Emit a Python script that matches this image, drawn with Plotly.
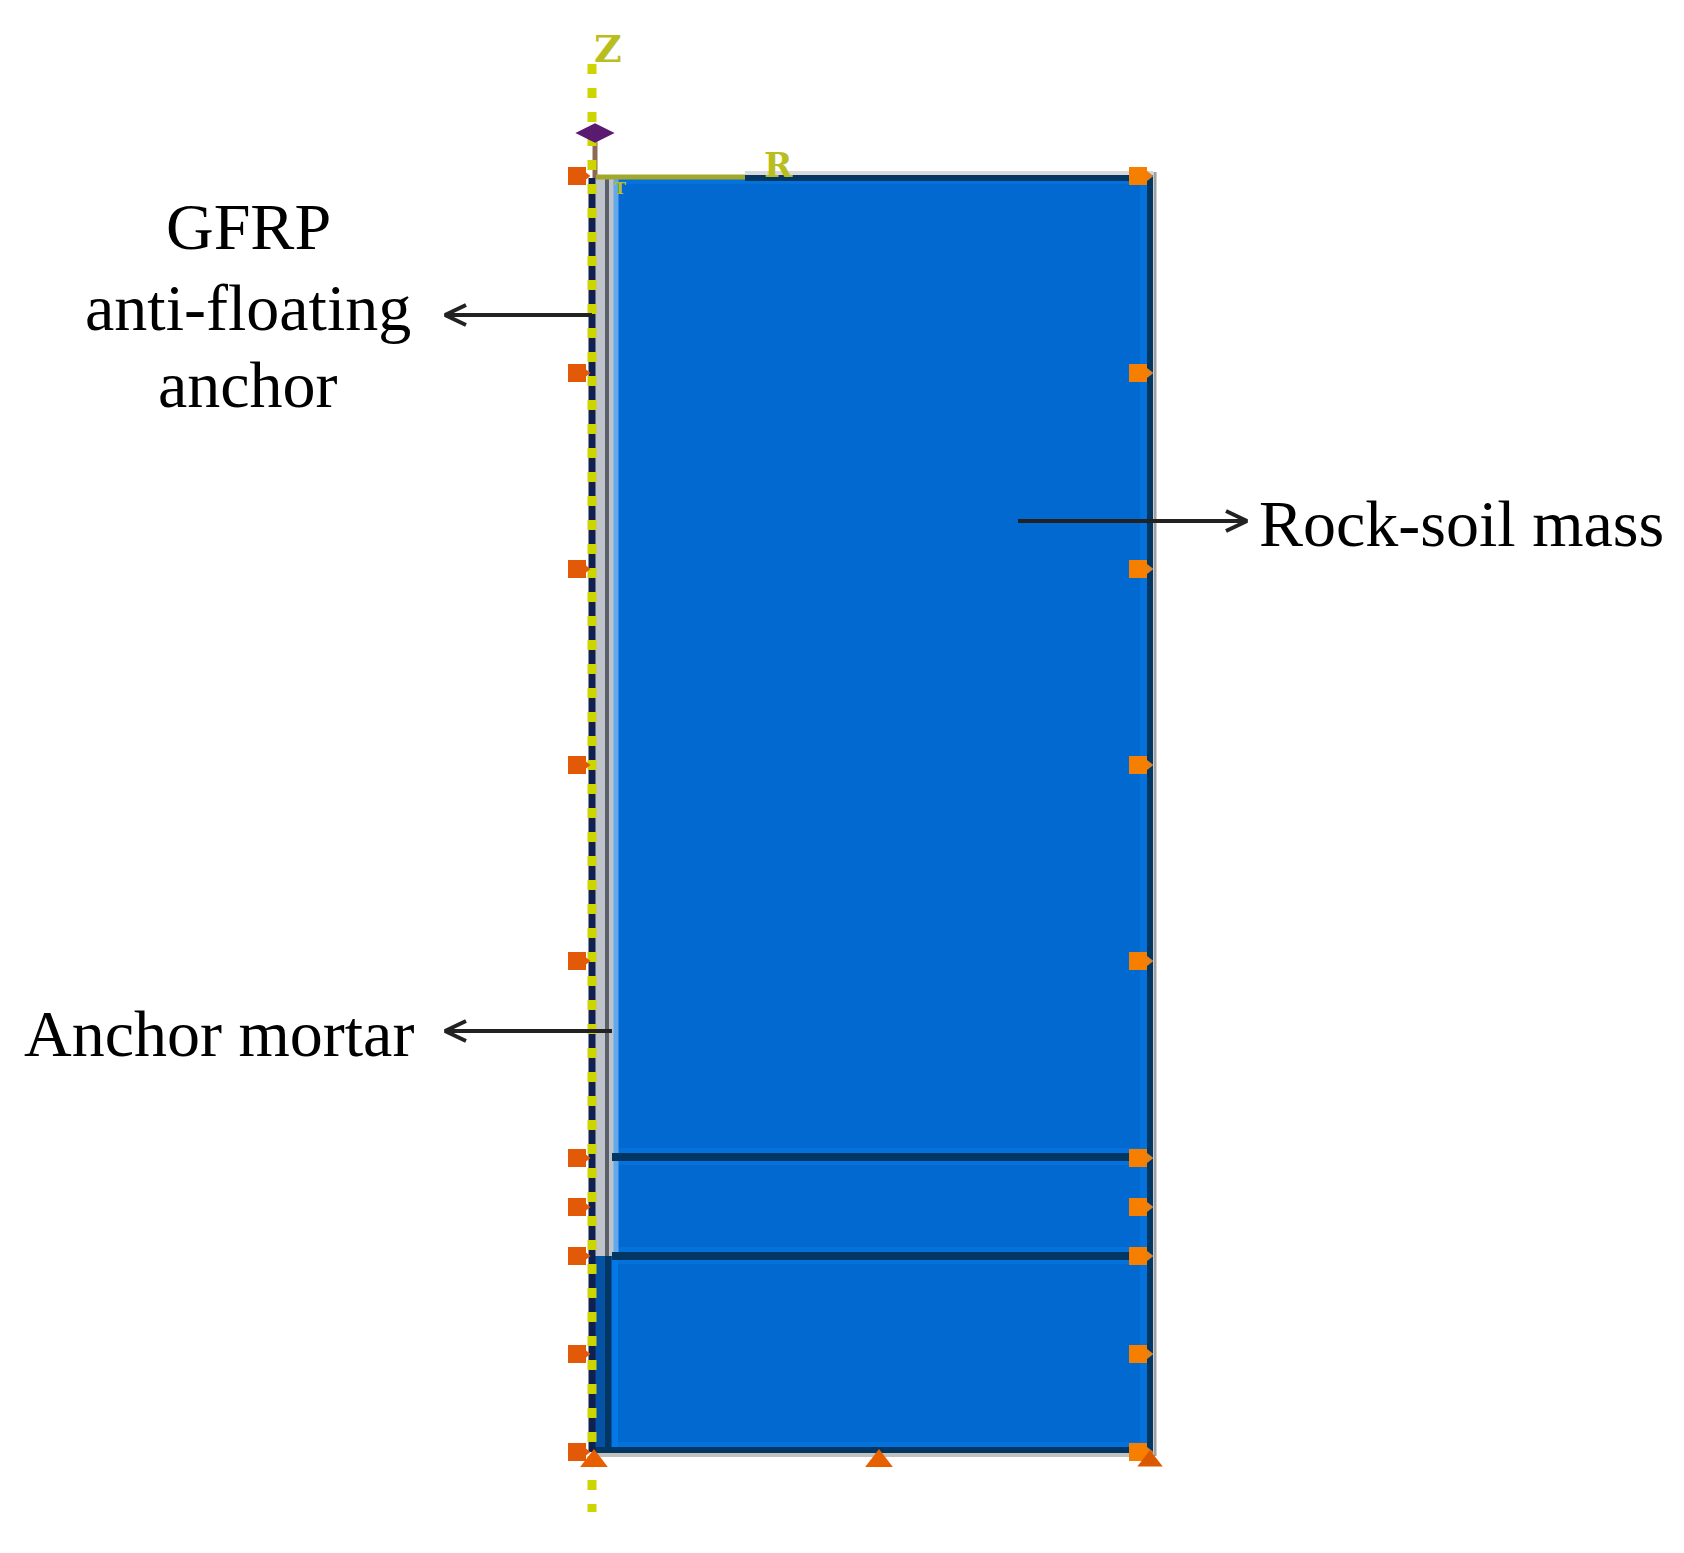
import plotly.graph_objects as go

# Model geometry (in image pixels)
axis_x, mortar_left, mortar_right, block_right = 592, 595, 617, 1153
block_top, block_bottom = 178, 1452
layer_tops = [1157, 1256]
mortar_bottom = 1256
load_z = [176, 373, 569, 765, 961, 1158, 1207, 1256, 1354, 1452]

SOIL, SOIL_LIGHT, DARK = "#0169CF", "#0572DC", "#033763"
GREY, ORANGE_L, ORANGE_R = "#BFC3CC", "#E25A08", "#F77F00"
YELLOW = "#CDD400"

labels = [
    ("GFRP", 248, 226), ("anti-floating", 248, 307), ("anchor", 248, 384),
    ("Anchor mortar", 219, 1033), ("Rock-soil mass", 1461, 523),
]
arrows = [
    ([592, 446], [315, 315]),
    ([612, 446], [1031, 1031]),
    ([1018, 1246], [521, 521]),
]
heads = [
    ([466, 445, 466], [305, 315, 325]),
    ([466, 445, 466], [1021, 1031, 1041]),
    ([1226, 1247, 1226], [511, 521, 531]),
]


def rect(x0, x1, y0, y1, color):
    return go.Scatter(x=[x0, x1, x1, x0, x0], y=[y0, y0, y1, y1, y0], mode="lines",
                      fill="toself", fillcolor=color, line=dict(width=0), hoverinfo="skip")


def line(xs, ys, color, width, dash=None):
    return go.Scatter(x=xs, y=ys, mode="lines",
                      line=dict(color=color, width=width, dash=dash), hoverinfo="skip")


def marks(xs, ys, symbol, size, color):
    return go.Scatter(x=xs, y=ys, mode="markers", hoverinfo="skip",
                      marker=dict(symbol=symbol, size=size, color=color))


fig = go.Figure()
# soil body and light halo near edges
fig.add_trace(rect(mortar_right, block_right, block_top, block_bottom, SOIL))
fig.add_trace(rect(1140, block_right, block_top, block_bottom, SOIL_LIGHT))
fig.add_trace(rect(mortar_right, block_right, block_top, block_top + 6, SOIL_LIGHT))
fig.add_trace(rect(mortar_right, block_right, block_bottom - 10, block_bottom, SOIL_LIGHT))
for y in layer_tops:
    fig.add_trace(rect(mortar_right, block_right, y - 9, y + 8, SOIL_LIGHT))
# lower part beside the axis
fig.add_trace(rect(mortar_left, 618, mortar_bottom, block_bottom, "#0552A5"))
fig.add_trace(rect(612, 618, mortar_bottom, block_bottom, "#0578E8"))
fig.add_trace(line([608, 608], [mortar_bottom, block_bottom], DARK, 6))
# mortar column
fig.add_trace(rect(mortar_left, mortar_right, block_top, mortar_bottom, GREY))
fig.add_trace(line([mortar_right - 1, mortar_right - 1], [block_top, mortar_bottom], "#63A8EA", 5))
fig.add_trace(line([607, 607], [block_top, mortar_bottom], "#5A5F68", 4))
for y in layer_tops:
    fig.add_trace(line([612, block_right], [y, y], DARK, 8))
# outline
fig.add_trace(line([axis_x, block_right], [block_bottom - 2, block_bottom - 2], DARK, 6))
fig.add_trace(line([axis_x, block_right], [block_bottom + 3, block_bottom + 3], "#C3C1BD", 4))
fig.add_trace(line([1150, 1150], [block_top, block_bottom], DARK, 6))
fig.add_trace(line([1155, 1155], [block_top - 6, block_bottom + 4], "#9EA0A2", 3))
fig.add_trace(line([745, block_right], [block_top, block_top], DARK, 6))
fig.add_trace(line([745, block_right], [block_top - 5, block_top - 5], "#D9D9D9", 4))
fig.add_trace(line([axis_x, axis_x], [block_top, block_bottom], "#10204F", 7))
# axes
fig.add_trace(line([595, 595], [135, 178], "#8C6A55", 5))
fig.add_trace(line([596, 745], [177, 177], "#A3A82B", 5))
fig.add_trace(line([axis_x, axis_x], [64, 1512], YELLOW, 9, "10px,14px"))
fig.add_trace(marks([595], [133], "diamond-wide", 28, "#5A1A70"))
# boundary-condition markers
fig.add_trace(marks([583] * len(load_z), load_z, "triangle-right", 15, ORANGE_L))
fig.add_trace(marks([577] * len(load_z), load_z, "square", 18, ORANGE_L))
fig.add_trace(marks([1146] * len(load_z), load_z, "triangle-right", 15, "#E08020"))
fig.add_trace(marks([1138] * len(load_z), load_z, "square", 18, ORANGE_R))
fig.add_trace(marks([594], [1461], "triangle-up", 24, "#E85F00"))
fig.add_trace(marks([879], [1461], "triangle-up", 24, "#E85F00"))
fig.add_trace(marks([1150], [1461], "triangle-up", 22, "#D95800"))
# leader arrows
for (xs, ys) in arrows:
    fig.add_trace(line(xs, ys, "#222222", 4))
for (xs, ys) in heads:
    fig.add_trace(line(xs, ys, "#222222", 4))

for t, x, y in labels:
    fig.add_annotation(x=x, y=y, text=t, showarrow=False, xanchor="center", yanchor="middle",
                       font=dict(family="Liberation Serif", size=66, color="#000000"))
for t, x, y, s in [("Z", 608, 48, 38), ("R", 778, 165, 34), ("T", 620, 188, 16)]:
    fig.add_annotation(x=x, y=y, text=t, showarrow=False, xanchor="center", yanchor="middle",
                       font=dict(family="DejaVu Serif", size=s, color="#B9BE1E", weight="bold"))

fig.update_layout(width=1684, height=1553, margin=dict(l=0, r=0, t=0, b=0),
                  paper_bgcolor="white", plot_bgcolor="white", showlegend=False,
                  xaxis=dict(range=[0, 1684], visible=False),
                  yaxis=dict(range=[1553, 0], visible=False))
fig.write_html("out.html", config={"displayModeBar": False},
               post_script="document.body.style.margin='0';document.documentElement.style.overflow='hidden';")
